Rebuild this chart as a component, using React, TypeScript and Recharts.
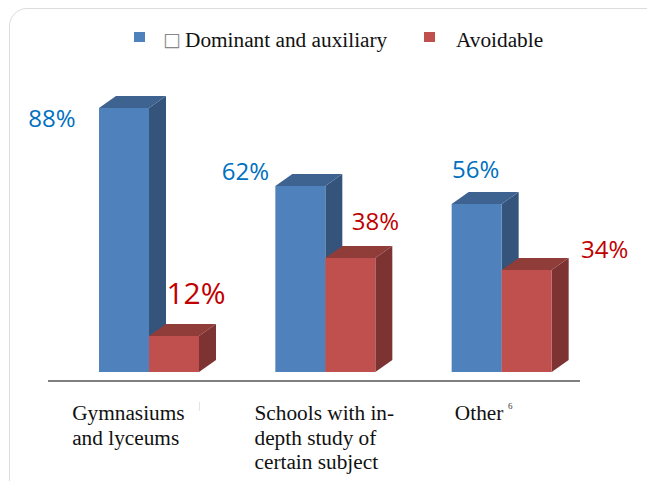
import { BarChart, Bar, XAxis, YAxis, Legend, LabelList } from "recharts";

const categories = ["Gymnasiums and lyceums", "Schools with in-depth study of certain subject", "Other"];
const dominant = [88, 62, 56];
const avoidable = [12, 38, 34];

const tickLines = [
  ["Gymnasiums", "and lyceums"],
  ["Schools with in-", "depth study of", "certain subject"],
  ["Other"],
];

const SERIF = "'Liberation Serif', serif";
const SANS = "'Open Sans', sans-serif";
const BLUE = { front: "#4f81bd", side: "#34547b", top: "#3f6391", label: "#0070c0" };
const RED = { front: "#c0504d", side: "#7d3331", top: "#903c39", label: "#c00000" };

// label offsets from each bar's top-left corner, the original places them by hand
const blueLabelPos = [
  { dx: -47, dy: 9, size: 24 },
  { dx: -30, dy: -16, size: 24 },
  { dx: 24, dy: -36, size: 24 },
];
const redLabelPos = [
  { dx: 47, dy: -44, size: 30 },
  { dx: 50, dy: -38, size: 24 },
  { dx: 103, dy: -22, size: 24 },
];
const tickDx = [-77, -71, -47];

const data = categories.map((name, i) => ({
  name,
  dominant: dominant[i],
  avoidable: avoidable[i],
}));

// extruded bar, depth is fixed like the original 3D column look
const bar3d = (c: typeof BLUE) => (props: any) => {
  const { x, y, width, height } = props;
  const dx = 17;
  const dy = 12;
  return (
    <g>
      <polygon
        points={`${x + width},${y} ${x + width + dx},${y - dy} ${x + width + dx},${y + height - dy} ${x + width},${y + height}`}
        fill={c.side}
      />
      <polygon
        points={`${x},${y} ${x + dx},${y - dy} ${x + width + dx},${y - dy} ${x + width},${y}`}
        fill={c.top}
      />
      <rect x={x} y={y} width={width} height={height} fill={c.front} />
    </g>
  );
};

const barLabel = (pos: typeof blueLabelPos, color: string) => (props: any) => {
  const { x, y, value, index } = props;
  const p = pos[index];
  return (
    <text
      x={x + p.dx}
      y={y + p.dy}
      fill={color}
      fontSize={p.size}
      fontFamily={SANS}
      textAnchor="middle"
      dominantBaseline="central"
    >
      {value}%
    </text>
  );
};

const CategoryTick = (props: any) => {
  const { x, y, index } = props;
  return (
    <text x={x + tickDx[index]} y={y} fill="#111" fontSize={21.3} fontFamily={SERIF}>
      {tickLines[index].map((line, i) => (
        <tspan key={line} x={x + tickDx[index]} y={y + i * 24.5}>
          {line}
        </tspan>
      ))}
    </text>
  );
};

const legendBox = [
  { marker: 134, text: 185 },
  { marker: 424, text: 456 },
];

const ChartLegend = ({ payload }: any) => (
  <div style={{ position: "relative", height: 0, fontFamily: SERIF, fontSize: 21.3, color: "#111" }}>
    {(payload ?? []).map((p: any, i: number) => (
      <div key={p.value}>
        <div
          style={{
            position: "absolute",
            left: legendBox[i].marker,
            top: 32,
            width: 11,
            height: 10,
            background: p.color,
          }}
        />
        {i === 0 && (
          <span style={{ position: "absolute", left: 163, top: 27, lineHeight: "24px", fontFamily: "'DejaVu Sans'", fontSize: 19, color: "#888" }}>
            □
          </span>
        )}
        <span style={{ position: "absolute", left: legendBox[i].text, top: 28, lineHeight: "24px", whiteSpace: "nowrap" }}>
          {p.value}
        </span>
      </div>
    ))}
  </div>
);

export default function App() {
  return (
    <div style={{ position: "absolute", left: 0, top: 0, width: 647, height: 481, overflow: "hidden", background: "#fff" }}>
      <div
        style={{
          position: "absolute",
          left: 9,
          top: 8,
          width: 660,
          height: 520,
          border: "1.5px solid #dcdcdc",
          borderRadius: 18,
        }}
      />
      <span style={{ position: "absolute", left: 508, top: 401, fontFamily: SERIF, fontSize: 9, color: "#333" }}>6</span>
      <div style={{ position: "absolute", left: 199, top: 402, width: 1, height: 9, background: "#e4e4e4" }} />
      <BarChart
        width={647}
        height={481}
        data={data}
        barSize={50}
        barGap={0}
        margin={{ top: 72, right: 67, bottom: 0, left: 48 }}
        style={{ position: "absolute", left: 0, top: 0 }}
      >
        <XAxis
          dataKey="name"
          axisLine={{ stroke: "#808080", strokeWidth: 2 }}
          tickLine={false}
          tick={<CategoryTick />}
          interval={0}
          padding={{ left: 13, right: -10 }}
          height={100}
          tickMargin={33}
        />
        <YAxis hide domain={[-3, 100]} />
        <Legend
          verticalAlign="top"
          content={<ChartLegend />}
          itemSorter={null}
          wrapperStyle={{ left: 0, top: 0, width: 647, height: 0 }}
        />
        <Bar
          dataKey="dominant"
          name="Dominant and auxiliary"
          fill={BLUE.front}
          shape={bar3d(BLUE)}
          isAnimationActive={false}
        >
          <LabelList dataKey="dominant" content={barLabel(blueLabelPos, BLUE.label)} />
        </Bar>
        <Bar
          dataKey="avoidable"
          name="Avoidable"
          fill={RED.front}
          shape={bar3d(RED)}
          isAnimationActive={false}
        >
          <LabelList dataKey="avoidable" content={barLabel(redLabelPos, RED.label)} />
        </Bar>
      </BarChart>
    </div>
  );
}
